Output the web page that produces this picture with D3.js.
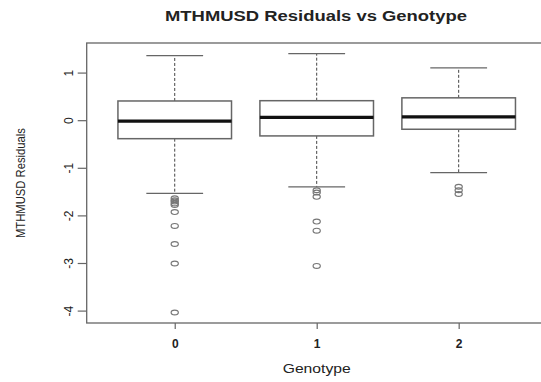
<!DOCTYPE html>
<html>
<head>
<meta charset="utf-8">
<script src="https://cdn.jsdelivr.net/npm/d3@7"></script>
<style>
  body { margin: 0; background: #fff; }
  text { font-family: "Liberation Sans", Arial, sans-serif; fill: #222; }
</style>
</head>
<body>
<svg width="541" height="382"></svg>
<script>
const genotypes = ['0', '1', '2'];
const whiskerLow = [-1.525, -1.39, -1.09];
const q1 = [-0.378, -0.32, -0.18];
const medians = [-0.01, 0.07, 0.08];
const q3 = [0.414, 0.42, 0.48];
const whiskerHigh = [1.366, 1.41, 1.11];
const outliers = [
	[-1.63, -1.67, -1.70, -1.74, -1.77, -1.92, -2.21, -2.59, -3.0, -4.03],
	[-1.46, -1.51, -1.60, -2.12, -2.31, -3.05],
	[-1.39, -1.46, -1.54]
];
const yTicks = [-4, -3, -2, -1, 0, 1];

const svg = d3.select('svg');

const data = genotypes.map((g, i) => ({
	pos: i + 1,
	label: g,
	lo: whiskerLow[i],
	q1: q1[i],
	med: medians[i],
	q3: q3[i],
	hi: whiskerHigh[i],
	out: outliers[i]
}));

// plot region runs off the right side of the picture, like the original crop
const xScale = d3.scaleLinear()
	.domain([0.38, 3.62])
	.range([86.7, 546.7]);

const yScale = d3.scaleLinear()
	.domain([-4.25, 1.632])
	.range([323, 43]);

const boxHalf = 0.4;
const capHalf = 0.2;
const lineCol = '#666';

// frame
svg.append('rect')
	.attr('x', xScale(0.38))
	.attr('y', yScale(1.632))
	.attr('width', xScale(3.62) - xScale(0.38))
	.attr('height', yScale(-4.25) - yScale(1.632))
	.attr('fill', 'none')
	.attr('stroke', lineCol)
	.attr('stroke-width', 1.3);

const yAxis = d3.axisLeft(yScale)
	.tickValues(yTicks)
	.tickSize(9)
	.tickPadding(9)
	.tickFormat(d => String(d));

const yAxisG = svg.append('g')
	.attr('transform', `translate(${xScale(0.38)}, 0)`)
	.call(yAxis);
yAxisG.select('.domain').remove();
yAxisG.selectAll('line').attr('stroke', lineCol).attr('stroke-width', 1.2);
yAxisG.selectAll('text')
	.attr('transform', d => `rotate(-90, -18, ${yScale(d)})`)
	.attr('x', -18)
	.attr('y', d => yScale(d))
	.attr('dy', '0.35em')
	.attr('text-anchor', 'middle')
	.style('font-size', '12px')
	.style('font-family', '"Liberation Sans", Arial, sans-serif')
	.attr('fill', '#222');
yAxisG.selectAll('.tick').attr('transform', null);
yAxisG.selectAll('.tick line')
	.attr('y1', d => yScale(d))
	.attr('y2', d => yScale(d));

const xAxis = d3.axisBottom(xScale)
	.tickValues(data.map(d => d.pos))
	.tickSize(6)
	.tickPadding(10)
	.tickFormat((d, i) => genotypes[i]);

const xAxisG = svg.append('g')
	.attr('transform', `translate(0, ${yScale(-4.25)})`)
	.call(xAxis);
xAxisG.select('.domain').remove();
xAxisG.selectAll('line').attr('stroke', lineCol).attr('stroke-width', 1.2);
xAxisG.selectAll('text')
	.style('font-size', '12px')
	.style('font-weight', 'bold')
	.style('font-family', '"Liberation Sans", Arial, sans-serif')
	.attr('fill', '#333');

const boxes = svg.selectAll('.box').data(data)
	.enter().append('g')
		.attr('class', 'box');

// whiskers
boxes.append('line')
	.attr('x1', d => xScale(d.pos)).attr('x2', d => xScale(d.pos))
	.attr('y1', d => yScale(d.q3)).attr('y2', d => yScale(d.hi))
	.attr('stroke', '#444').attr('stroke-dasharray', '3,2');
boxes.append('line')
	.attr('x1', d => xScale(d.pos)).attr('x2', d => xScale(d.pos))
	.attr('y1', d => yScale(d.q1)).attr('y2', d => yScale(d.lo))
	.attr('stroke', '#444').attr('stroke-dasharray', '3,2');
boxes.append('line')
	.attr('x1', d => xScale(d.pos - capHalf)).attr('x2', d => xScale(d.pos + capHalf))
	.attr('y1', d => yScale(d.hi)).attr('y2', d => yScale(d.hi))
	.attr('stroke', lineCol).attr('stroke-width', 1.3);
boxes.append('line')
	.attr('x1', d => xScale(d.pos - capHalf)).attr('x2', d => xScale(d.pos + capHalf))
	.attr('y1', d => yScale(d.lo)).attr('y2', d => yScale(d.lo))
	.attr('stroke', lineCol).attr('stroke-width', 1.3);

boxes.append('rect')
	.attr('x', d => xScale(d.pos - boxHalf))
	.attr('y', d => yScale(d.q3))
	.attr('width', d => xScale(d.pos + boxHalf) - xScale(d.pos - boxHalf))
	.attr('height', d => yScale(d.q1) - yScale(d.q3))
	.attr('fill', '#fff')
	.attr('stroke', lineCol)
	.attr('stroke-width', 1.5);

boxes.append('line')
	.attr('x1', d => xScale(d.pos - boxHalf)).attr('x2', d => xScale(d.pos + boxHalf))
	.attr('y1', d => yScale(d.med)).attr('y2', d => yScale(d.med))
	.attr('stroke', '#111').attr('stroke-width', 3.2);

boxes.selectAll('ellipse').data(d => d.out.map(v => ({pos: d.pos, v})))
	.enter().append('ellipse')
		.attr('cx', d => xScale(d.pos))
		.attr('cy', d => yScale(d.v))
		.attr('rx', 3.6)
		.attr('ry', 2.4)
		.attr('fill', 'none')
		.attr('stroke', '#777')
		.attr('stroke-width', 1.2);

// titles
svg.append('text')
	.attr('x', 316)
	.attr('y', 21)
	.attr('text-anchor', 'middle')
	.attr('textLength', 302)
	.attr('lengthAdjust', 'spacingAndGlyphs')
	.style('font-size', '14px')
	.style('font-weight', 'bold')
	.attr('fill', '#111')
	.text('MTHMUSD Residuals vs Genotype');

svg.append('text')
	.attr('x', 316.7)
	.attr('y', 373)
	.attr('text-anchor', 'middle')
	.attr('textLength', 68)
	.attr('lengthAdjust', 'spacingAndGlyphs')
	.style('font-size', '12px')
	.attr('fill', '#333')
	.text('Genotype');

svg.append('text')
	.attr('transform', `translate(25, 183) rotate(-90)`)
	.attr('text-anchor', 'middle')
	.attr('textLength', 110)
	.attr('lengthAdjust', 'spacingAndGlyphs')
	.style('font-size', '12px')
	.attr('fill', '#333')
	.text('MTHMUSD Residuals');
</script>
</body>
</html>
